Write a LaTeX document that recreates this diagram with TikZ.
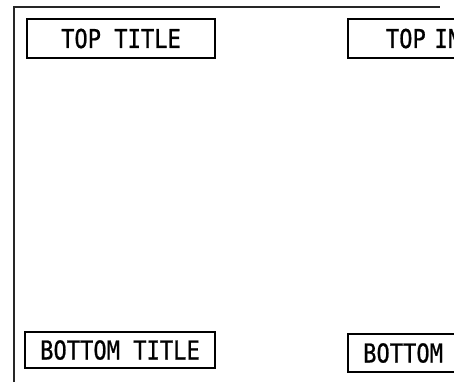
\documentclass[tikz,border=0pt]{standalone}
\usepackage{fontspec}
\newfontfamily\plotfont{DejaVu Sans Mono}[FakeStretch=0.85,FakeBold=0.8]
\begin{document}
\begin{tikzpicture}[x=1pt,y=-1pt,
  framestyle/.style={line width=1.2pt, draw=black!85},
  titlebox/.style={draw, line width=1.8pt, inner sep=0pt, text height=19pt, text depth=0pt,
    font=\plotfont\fontsize{26}{26}\selectfont}]
\useasboundingbox (0,0) rectangle (454,382);
\clip (0,0) rectangle (454,382);
\coordinate (fb) at (14,382);
\coordinate (fc) at (14,7);
\coordinate (fr) at (440,7);
\draw[framestyle] (fb) -- (fc) -- (fr);
\node[titlebox, minimum width=188pt, minimum height=39pt] (tl) at (121,38.5) {TOP TITLE};
\node[titlebox, minimum width=190pt, minimum height=36pt] (bl) at (120,350) {BOTTOM TITLE};
\node[titlebox, anchor=west, text width=114pt, inner xsep=38pt, align=left, minimum height=39pt] (tr) at (347,38.5) {TOP IN};
\node[titlebox, minimum width=190pt, minimum height=38pt] (br) at (443,353) {BOTTOM TITLE};
\end{tikzpicture}
\end{document}
